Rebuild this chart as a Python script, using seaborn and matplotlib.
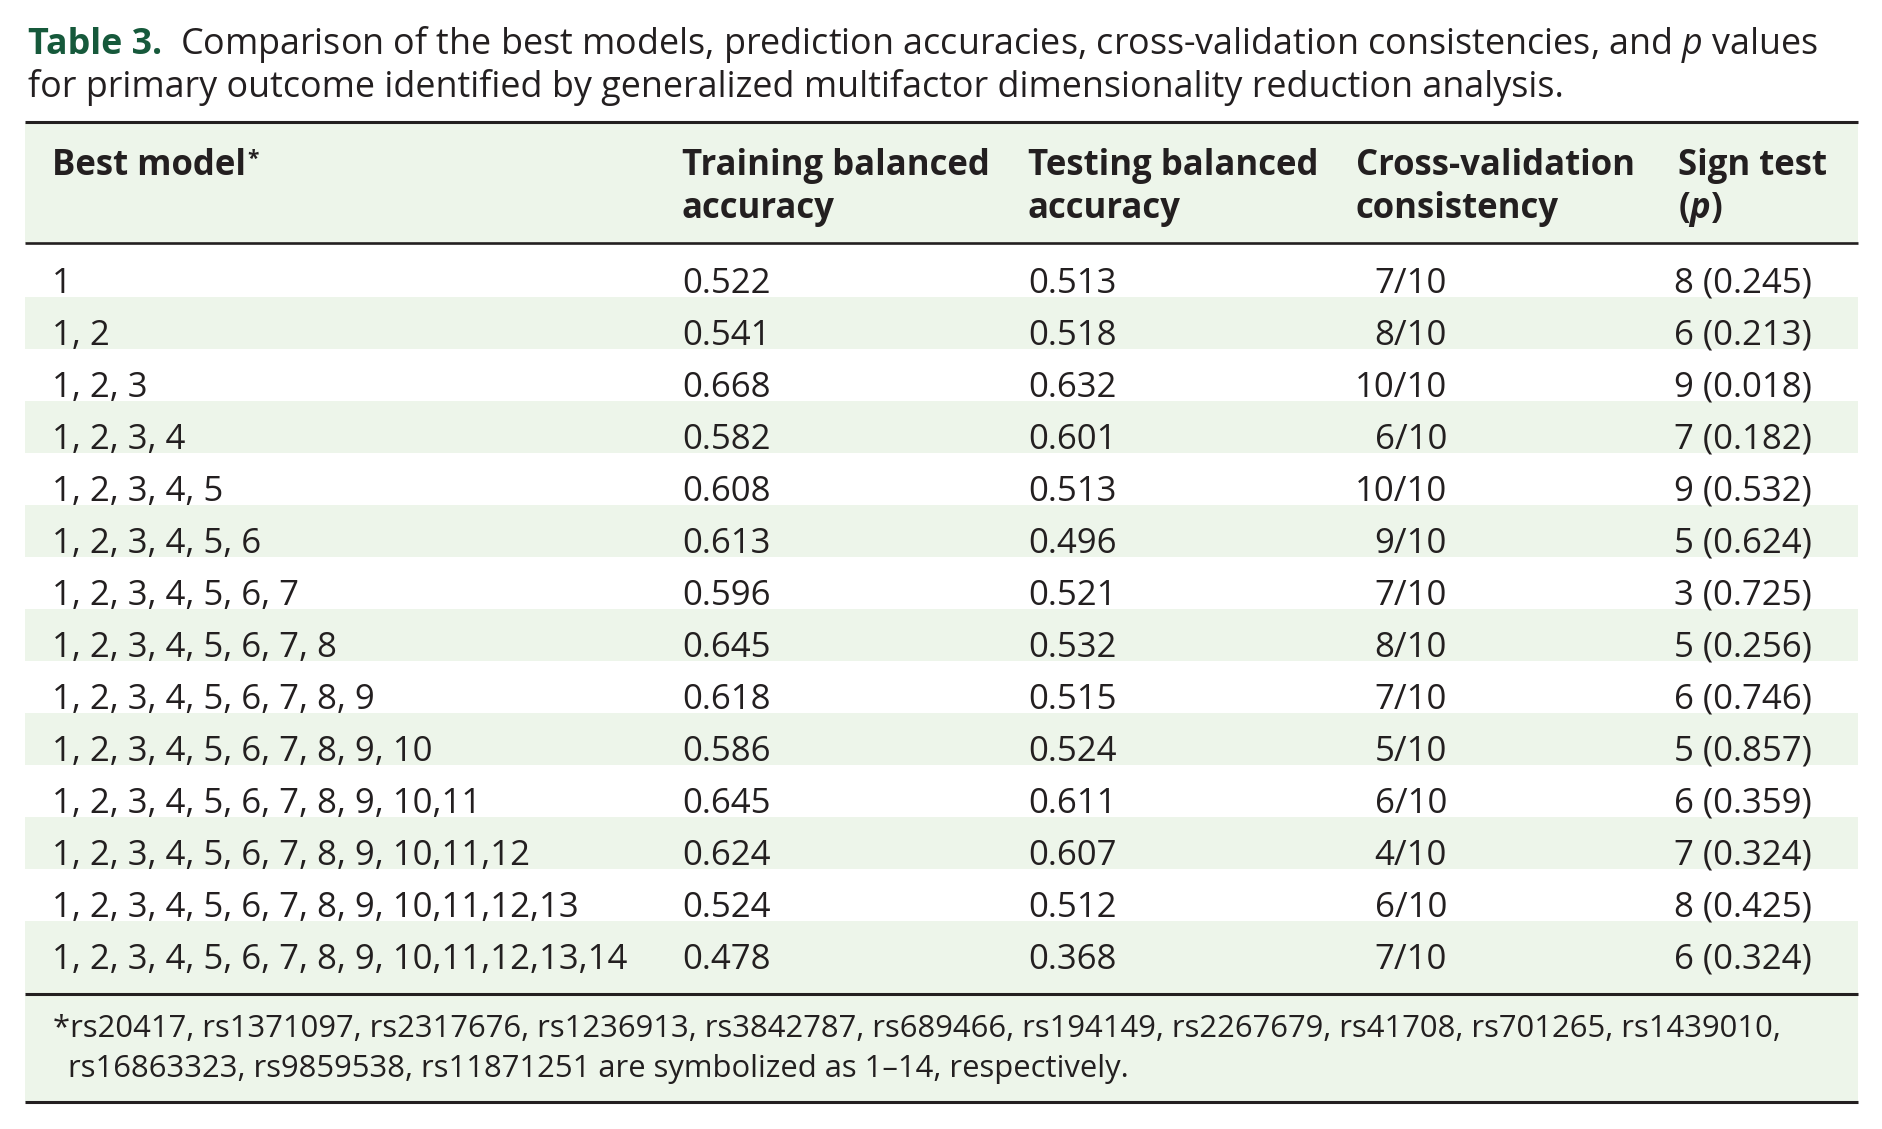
import matplotlib
matplotlib.use("Agg")
import matplotlib.pyplot as plt
import seaborn as sns

# Table values
models = [
    "1",
    "1, 2",
    "1, 2, 3",
    "1, 2, 3, 4",
    "1, 2, 3, 4, 5",
    "1, 2, 3, 4, 5, 6",
    "1, 2, 3, 4, 5, 6, 7",
    "1, 2, 3, 4, 5, 6, 7, 8",
    "1, 2, 3, 4, 5, 6, 7, 8, 9",
    "1, 2, 3, 4, 5, 6, 7, 8, 9, 10",
    "1, 2, 3, 4, 5, 6, 7, 8, 9, 10,11",
    "1, 2, 3, 4, 5, 6, 7, 8, 9, 10,11,12",
    "1, 2, 3, 4, 5, 6, 7, 8, 9, 10,11,12,13",
    "1, 2, 3, 4, 5, 6, 7, 8, 9, 10,11,12,13,14",
]
train_acc = [0.522, 0.541, 0.668, 0.582, 0.608, 0.613, 0.596, 0.645, 0.618, 0.586, 0.645, 0.624, 0.524, 0.478]
test_acc = [0.513, 0.518, 0.632, 0.601, 0.513, 0.496, 0.521, 0.532, 0.515, 0.524, 0.611, 0.607, 0.512, 0.368]
cv_consistency = [7, 8, 10, 6, 10, 9, 7, 8, 7, 5, 6, 4, 6, 7]
sign_test = [8, 6, 9, 7, 9, 5, 3, 5, 6, 5, 6, 7, 8, 6]
sign_p = [0.245, 0.213, 0.018, 0.182, 0.532, 0.624, 0.725, 0.256, 0.746, 0.857, 0.359, 0.324, 0.425, 0.324]

title_label = "Table 3."
title_line1 = "Comparison of the best models, prediction accuracies, cross-validation consistencies, and $p$ values"
title_line2 = "for primary outcome identified by generalized multifactor dimensionality reduction analysis."
footnote_line1 = ("*rs20417, rs1371097, rs2317676, rs1236913, rs3842787, rs689466, rs194149, "
                  "rs2267679, rs41708, rs701265, rs1439010,")
footnote_line2 = "rs16863323, rs9859538, rs11871251 are symbolized as 1\u201314, respectively."

sns.set_theme(style="white")
plt.rcParams['font.family'] = ['Open Sans', 'DejaVu Sans']
plt.rcParams['mathtext.fontset'] = 'custom'
plt.rcParams['mathtext.rm'] = 'Open Sans'
plt.rcParams['mathtext.it'] = 'Open Sans:italic'
plt.rcParams['mathtext.bf'] = 'Open Sans:bold'
plt.rcParams['mathtext.bfit'] = 'Open Sans:bold:italic'

ink = '#231F20'
green = '#16593B'
shade = '#EDF5EA'
fs = 25

fig = plt.figure(figsize=(18.82, 11.29), dpi=100)
ax = fig.add_axes([0, 0, 1, 1])
# one data unit = one pixel, y going down
ax.set_xlim(0, 1882)
ax.set_ylim(1129, 0)
ax.axis('off')

left, right = 25, 1858
row_h = 52
row_top = 245

# shaded bands: header, even rows, footnote
ax.barh(183, right - left, left=left, height=120, color=shade, linewidth=0)
for i in range(len(models)):
    if i % 2 == 1:
        top = row_top + row_h * i
        h = row_h if i < len(models) - 1 else 994 - top
        ax.barh(top + h / 2, right - left, left=left, height=h, color=shade, linewidth=0)
ax.barh(1048.5, right - left, left=left, height=107, color=shade, linewidth=0)

# rules
for y, lw in [(122, 2.2), (243, 1.9), (994, 2.2), (1102, 2.2)]:
    ax.hlines(y, left, right, color=ink, linewidth=lw)

# title
ax.text(28, 54, title_label, fontsize=25.8, fontweight='bold', color=green, va='baseline')
ax.text(180, 54, title_line1, fontsize=25.8, color=ink, va='baseline')
ax.text(28, 97, title_line2, fontsize=25.8, color=ink, va='baseline')

# header
col_x = [52, 682, 1028, 1356, 1678]
hb1, hb2 = 175, 218
renderer = fig.canvas.get_renderer()
t = ax.text(col_x[0], hb1, "Best model", fontsize=fs, fontweight='bold', color=ink, va='baseline')
bb = t.get_window_extent(renderer)
ax.text(bb.x1 + 1, hb1 - 10, "*", fontsize=fs * 0.6, fontweight='bold', color=ink, va='baseline')
ax.text(col_x[1], hb1, "Training balanced", fontsize=fs, fontweight='bold', color=ink, va='baseline')
ax.text(col_x[1], hb2, "accuracy", fontsize=fs, fontweight='bold', color=ink, va='baseline')
ax.text(col_x[2], hb1, "Testing balanced", fontsize=fs, fontweight='bold', color=ink, va='baseline')
ax.text(col_x[2], hb2, "accuracy", fontsize=fs, fontweight='bold', color=ink, va='baseline')
ax.text(col_x[3], hb1, "Cross-validation", fontsize=fs, fontweight='bold', color=ink, va='baseline')
ax.text(col_x[3], hb2, "consistency", fontsize=fs, fontweight='bold', color=ink, va='baseline')
ax.text(col_x[4], hb1, "Sign test", fontsize=fs, fontweight='bold', color=ink, va='baseline')
ax.text(col_x[4], hb2, r"($\mathbfit{p}$)", fontsize=fs, fontweight='bold', color=ink, va='baseline')

# body rows
for i in range(len(models)):
    yb = 293 + row_h * i
    ax.text(col_x[0], yb, models[i], fontsize=fs, color=ink, va='baseline')
    ax.text(col_x[1], yb, f"{train_acc[i]:.3f}", fontsize=fs, color=ink, va='baseline')
    ax.text(col_x[2], yb, f"{test_acc[i]:.3f}", fontsize=fs, color=ink, va='baseline')
    ax.text(1447, yb, f"{cv_consistency[i]}/10", fontsize=fs, color=ink, va='baseline', ha='right')
    ax.text(1812, yb, f"{sign_test[i]} ({sign_p[i]:.3f})", fontsize=fs, color=ink, va='baseline', ha='right')

# footnote
ax.text(53, 1037, footnote_line1, fontsize=22.3, color=ink, va='baseline')
ax.text(68, 1077, footnote_line2, fontsize=22.3, color=ink, va='baseline')

fig.savefig('out.png', dpi=100, facecolor='white')
